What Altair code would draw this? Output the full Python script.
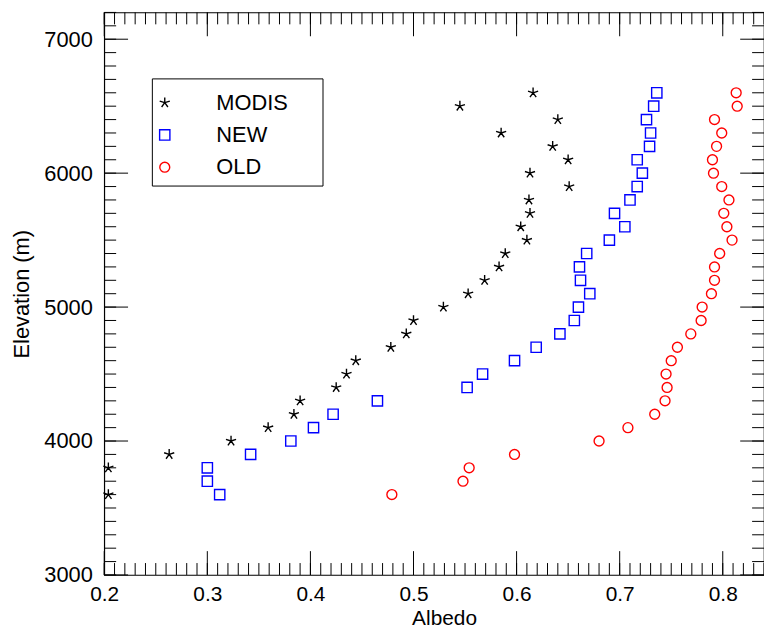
import altair as alt
import pandas as pd

# ---- data ----
modis_elev = [3600, 3800, 3900, 4000, 4100, 4200, 4300, 4400, 4500, 4600, 4700, 4800, 4900, 5000,
              5100, 5200, 5300, 5400, 5500, 5600, 5700, 5800, 5900, 6000, 6100, 6200, 6300, 6400,
              6500, 6600]
modis_albedo = [0.204, 0.204, 0.263, 0.323, 0.359, 0.384, 0.390, 0.425, 0.435, 0.444, 0.478, 0.493,
                0.500, 0.529, 0.553, 0.569, 0.583, 0.589, 0.610, 0.604, 0.613, 0.612, 0.651, 0.613,
                0.650, 0.635, 0.585, 0.640, 0.545, 0.616]

new_elev = [3600, 3700, 3800, 3900, 4000, 4100, 4200, 4300, 4400, 4500, 4600, 4700, 4800, 4900,
            5000, 5100, 5200, 5300, 5400, 5500, 5600, 5700, 5800, 5900, 6000, 6100, 6200, 6300,
            6400, 6500, 6600]
new_albedo = [0.312, 0.300, 0.300, 0.342, 0.381, 0.403, 0.422, 0.465, 0.552, 0.567, 0.598, 0.619,
              0.642, 0.656, 0.660, 0.671, 0.662, 0.661, 0.668, 0.690, 0.705, 0.695, 0.710, 0.717,
              0.722, 0.717, 0.729, 0.730, 0.726, 0.733, 0.736]

old_elev = [3600, 3700, 3800, 3900, 4000, 4100, 4200, 4300, 4400, 4500, 4600, 4700, 4800, 4900,
            5000, 5100, 5200, 5300, 5400, 5500, 5600, 5700, 5800, 5900, 6000, 6100, 6200, 6300,
            6400, 6500, 6600]
old_albedo = [0.479, 0.548, 0.554, 0.598, 0.680, 0.708, 0.734, 0.744, 0.746, 0.745, 0.750, 0.756,
              0.769, 0.779, 0.780, 0.789, 0.792, 0.792, 0.797, 0.809, 0.804, 0.801, 0.806, 0.799,
              0.791, 0.790, 0.794, 0.799, 0.792, 0.814, 0.813]

series_names = ["MODIS", "NEW", "OLD"]
series_colors = ["#000000", "#0000ff", "#ff0000"]

x_label_values = [0.2, 0.3, 0.4, 0.5, 0.6, 0.7, 0.8]
y_label_values = [3000, 4000, 5000, 6000, 7000]
x_minor_ticks = [round(0.20 + 0.01 * i, 2) for i in range(65)]
y_minor_ticks = [3000 + 100 * i for i in range(43)]

# ---- build table ----
rows = []
for name, elev, alb in [("MODIS", modis_elev, modis_albedo),
                        ("NEW", new_elev, new_albedo),
                        ("OLD", old_elev, old_albedo)]:
    for e, a in zip(elev, alb):
        rows.append({"series": name, "albedo": a, "elevation": e})
df = pd.DataFrame(rows)

W, H = 665, 567
FONT = "Liberation Sans"
star = "M0,0L0,-1M0,0L0.951,-0.309M0,0L0.588,0.809M0,0L-0.588,0.809M0,0L-0.951,-0.309"

xscale = alt.Scale(domain=[0.2, 0.84], nice=False, zero=False)
yscale = alt.Scale(domain=[3000, 7200], nice=False, zero=False)

xaxis = alt.Axis(values=x_label_values, format=".1f", ticks=False, domain=False,
                 grid=False, labelFontSize=21, labelPadding=9, labelFlush=False,
                 titleFontSize=21, titlePadding=3, titleFontWeight="normal",
                 titleX=W / 2 + 10,
                 labelFont=FONT, titleFont=FONT, labelColor="black", titleColor="black")
yaxis = alt.Axis(values=y_label_values, format="d", ticks=False, domain=False,
                 grid=False, labelFontSize=22, labelPadding=12, labelFlush=False,
                 titleFontSize=22, titlePadding=10, titleFontWeight="normal",
                 labelFont=FONT, titleFont=FONT, labelColor="black", titleColor="black")

points = alt.Chart(df).mark_point(filled=False, strokeWidth=1.4, opacity=1).encode(
    x=alt.X("albedo:Q", scale=xscale, title="Albedo", axis=xaxis),
    y=alt.Y("elevation:Q", scale=yscale, title="Elevation (m)", axis=yaxis),
    color=alt.Color("series:N", scale=alt.Scale(domain=series_names, range=series_colors),
                    legend=alt.Legend(title=None, orient="none", legendX=50, legendY=80,
                                      labelFontSize=22, labelFont=FONT, labelColor="black",
                                      labelOffset=41, rowPadding=10.5, padding=0,
                                      symbolStrokeWidth=1.4, symbolSize=100)),
    shape=alt.Shape("series:N", scale=alt.Scale(domain=series_names,
                                                range=[star, "square", "circle"])),
    size=alt.Size("series:N", scale=alt.Scale(domain=series_names, range=[115, 100, 78]),
                  legend=None),
)

box = alt.Chart(pd.DataFrame({"a": [0]})).mark_rect(
    fill="white", stroke="black", strokeWidth=1
).encode(x=alt.value(48.5), x2=alt.value(220.5), y=alt.value(67), y2=alt.value(175))


def xticks(vals, length):
    d = pd.DataFrame({"v": vals})
    base = alt.Chart(d).mark_rule(color="black", strokeWidth=1)
    enc = alt.X("v:Q", scale=xscale, title="Albedo", axis=xaxis)
    bottom = base.encode(x=enc, y=alt.value(H), y2=alt.value(H - length))
    top = base.encode(x=enc, y=alt.value(0), y2=alt.value(length))
    return [bottom, top]


def yticks(vals, length):
    d = pd.DataFrame({"v": vals})
    base = alt.Chart(d).mark_rule(color="black", strokeWidth=1)
    enc = alt.Y("v:Q", scale=yscale, title="Elevation (m)", axis=yaxis)
    left = base.encode(y=enc, x=alt.value(0), x2=alt.value(length))
    right = base.encode(y=enc, x=alt.value(W), x2=alt.value(W - length))
    return [left, right]


layers = (xticks(x_minor_ticks, 12) + xticks(x_label_values, 24)
          + yticks(y_minor_ticks, 12) + yticks(y_label_values, 24))

chart = alt.layer(box, points, *layers).properties(
    width=W, height=H,
    autosize=alt.AutoSizeParams(type="none"),
    padding={"left": 97, "top": 2, "right": 0, "bottom": 52},
).configure_view(stroke="black", strokeWidth=1.2).resolve_scale(
    x="shared", y="shared"
)

chart.save("out.html", embed_options={"renderer": "svg", "actions": False})
